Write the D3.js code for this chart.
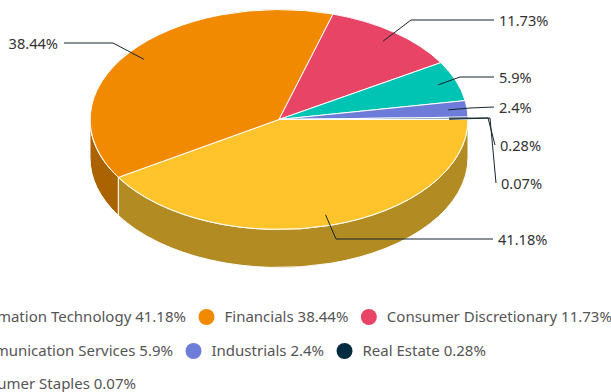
<!DOCTYPE html>
<html>
<head>
<meta charset="utf-8">
<script src="https://cdn.jsdelivr.net/npm/d3@7"></script>
<style>
  html, body { margin: 0; padding: 0; background: #fff; overflow: hidden; }
  text { font-family: "Noto Sans", sans-serif; font-size: 15px; }
</style>
</head>
<body>
<div id="my_dataviz"></div>
<script>
var categories = ["Information Technology", "Financials", "Consumer Discretionary", "Communication Services", "Industrials", "Real Estate", "Consumer Staples"];
var values = [41.18, 38.44, 11.73, 5.9, 2.4, 0.28, 0.07];
var colors = ["#ffc42c", "#f28a00", "#e84566", "#00c4b3", "#6e7cd9", "#002b41", "#12344a"];
var wallColors = ["#b38b23", "#ab6200"];
var legendRows = [[0, 1, 2], [3, 4, 5], [6]];

// layout
var width = 611, height = 392;
var cx = 279, cy = 119.5, rx = 189, ry = 110, depth = 38;
var labelElbow = [[336, 239], [113, 43], [411, 20], [460, 77], [470, 108], [488, 118], [490, 118]];
var labelEnd = [[493, 239], [64, 43], [494, 20], [494, 77], [494, 107], [495, 145], [496, 183]];
var legendFirstEnd = [186, 173, 136];
var legendY = [317, 351, 384];

var svg = d3.select("#my_dataviz")
  .append("svg")
  .attr("width", width)
  .attr("height", height)
  .style("display", "block");

var slices = d3.pie().sort(null).startAngle(Math.PI / 2).endAngle(Math.PI * 2.5)(values);

// everything in the pie group lives on a unit circle, squashed to an ellipse
var pie = svg.append("g")
  .attr("transform", "translate(" + cx + "," + cy + ") scale(" + rx + "," + ry + ")");

var arc = d3.arc().innerRadius(0).outerRadius(1);

// side wall below the rim, between two canvas angles
function wallPath(a0, a1) {
  var p = d3.path(), d = depth / ry;
  p.arc(0, 0, 1, a0, a1, false);
  p.arc(0, d, 1, a1, a0, true);
  p.closePath();
  return p.toString();
}

// only the two front slices show a wall
var toCanvas = function(a) { return a - Math.PI / 2; };
var wallSpans = [
  {a0: toCanvas(slices[0].startAngle), a1: toCanvas(slices[0].endAngle), i: 0},
  {a0: toCanvas(slices[1].startAngle), a1: Math.PI, i: 1}
];

pie.selectAll("path.wall")
  .data(wallSpans)
  .enter()
  .append("path")
  .attr("class", "wall")
  .attr("d", function(d) { return wallPath(d.a0, d.a1); })
  .attr("fill", function(d) { return wallColors[d.i]; })
  .attr("stroke", "#fff")
  .attr("stroke-width", 1)
  .attr("vector-effect", "non-scaling-stroke");

pie.selectAll("path.slice")
  .data(slices)
  .enter()
  .append("path")
  .attr("class", "slice")
  .attr("d", arc)
  .attr("fill", function(d, i) { return colors[i]; })
  .attr("stroke", "#fff")
  .attr("stroke-width", 1)
  .attr("vector-effect", "non-scaling-stroke");

// connectors start inside the slice at 90% of the radius
var line = d3.line();
svg.selectAll("path.connector")
  .data(slices)
  .enter()
  .append("path")
  .attr("class", "connector")
  .attr("d", function(d, i) {
    var mid = toCanvas((d.startAngle + d.endAngle) / 2);
    var start = [cx + rx * 0.9 * Math.cos(mid), cy + ry * 0.9 * Math.sin(mid)];
    return line([start, labelElbow[i], labelEnd[i]]);
  })
  .attr("fill", "none")
  .attr("stroke", "#14262f")
  .attr("stroke-width", 1);

svg.selectAll("text.value")
  .data(values)
  .enter()
  .append("text")
  .attr("class", "value")
  .attr("x", function(d, i) { return labelEnd[i][0] + (labelEnd[i][0] < cx ? -6 : 5); })
  .attr("y", function(d, i) { return labelEnd[i][1] + 0.5; })
  .attr("dy", "0.35em")
  .attr("text-anchor", function(d, i) { return labelEnd[i][0] < cx ? "end" : "start"; })
  .attr("fill", "#333")
  .style("font-size", "14.6px")
  .text(function(d) { return d + "%"; });

// legend, each row flows on from its first label
legendRows.forEach(function(row, r) {
  var x = legendFirstEnd[r];
  row.forEach(function(k, j) {
    var label = categories[k] + " " + values[k] + "%";
    var t = svg.append("text")
      .attr("y", legendY[r])
      .attr("dy", "0.35em")
      .attr("fill", "#555")
      .text(label);
    var w = t.node().getComputedTextLength();
    var textX = j == 0 ? x - w : x + 21.5 + 17;
    t.attr("x", textX);
    svg.append("circle")
      .attr("cx", textX - 18)
      .attr("cy", legendY[r])
      .attr("r", 8)
      .attr("fill", colors[k]);
    x = textX + w;
  });
});
</script>
</body>
</html>
